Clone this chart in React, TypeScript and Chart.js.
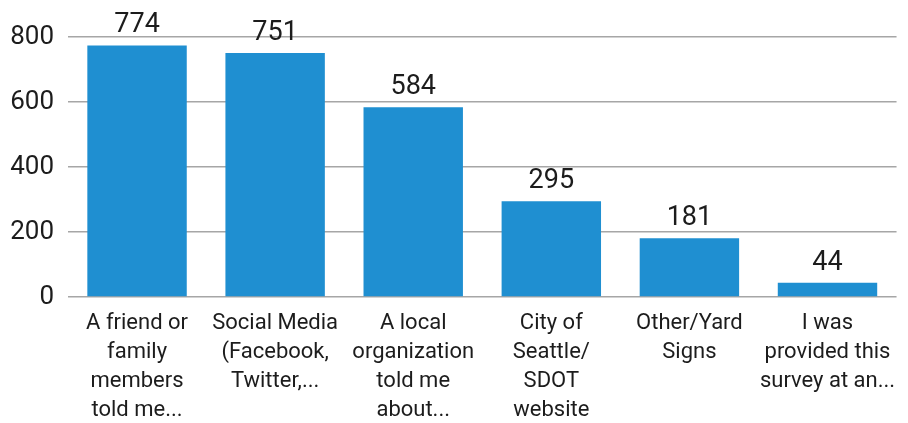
import React, { useEffect, useRef } from "react";
import { Chart, registerables } from "chart.js";

Chart.register(...registerables);

const categories: string[][] = [
  ["A friend or", "family", "members", "told me..."],
  ["Social Media", "(Facebook,", "Twitter,..."],
  ["A local", "organization", "told me", "about..."],
  ["City of", "Seattle/", "SDOT", "website"],
  ["Other/Yard", "Signs"],
  ["I was", "provided this", "survey at an..."],
];
const values: number[] = [774, 751, 584, 295, 181, 44];
const yTicks: number[] = [0, 200, 400, 600, 800];

const FONT = "Roboto, 'DejaVu Sans', sans-serif";
const TEXT = "#1c1c1c";
const BAR = "#1F8FD1";

const valueLabels = {
  id: "valueLabels",
  afterDatasetsDraw(chart: any) {
    const ctx = chart.ctx;
    const meta = chart.getDatasetMeta(0);
    ctx.save();
    ctx.font = `27px ${FONT}`;
    ctx.fillStyle = TEXT;
    ctx.textAlign = "center";
    ctx.textBaseline = "alphabetic";
    meta.data.forEach((bar: any, i: number) => {
      ctx.fillText(String(values[i]), bar.x, bar.y - 13);
    });
    ctx.restore();
  },
};

export default function App() {
  const ref = useRef<HTMLCanvasElement>(null);
  useEffect(() => {
    document.body.style.margin = "0";
    const chart = new Chart(ref.current!, {
      type: "bar",
      data: {
        labels: categories,
        datasets: [
          {
            data: values,
            backgroundColor: BAR,
            borderWidth: 0,
            barPercentage: 0.72,
            categoryPercentage: 1,
          },
        ],
      },
      options: {
        animation: false,
        responsive: false,
        maintainAspectRatio: false,
        layout: { padding: { top: 37, left: 0, right: 11, bottom: 0 } },
        plugins: { legend: { display: false }, tooltip: { enabled: false } },
        scales: {
          x: {
            grid: { display: false, drawTicks: false },
            border: { display: false },
            afterFit: (axis: any) => {
              axis.height = 126;
            },
            ticks: {
              color: TEXT,
              font: { family: FONT, size: 22, lineHeight: 1.32 },
              padding: 12,
              maxRotation: 0,
              autoSkip: false,
            },
          },
          y: {
            min: 0,
            max: 800,
            afterBuildTicks: (axis: any) => {
              axis.ticks = yTicks.map((v) => ({ value: v }));
            },
            afterFit: (axis: any) => {
              axis.width = 68;
            },
            grid: { color: "#a6a6a6", lineWidth: 1.5, drawTicks: false },
            border: { display: false },
            ticks: {
              color: TEXT,
              font: { family: FONT, size: 26 },
              padding: 14,
            },
          },
        },
      },
      plugins: [valueLabels],
    });
    return () => chart.destroy();
  }, []);
  return (
    <div style={{ width: 908, height: 423, background: "#fff" }}>
      <canvas ref={ref} width={908} height={423} />
    </div>
  );
}
